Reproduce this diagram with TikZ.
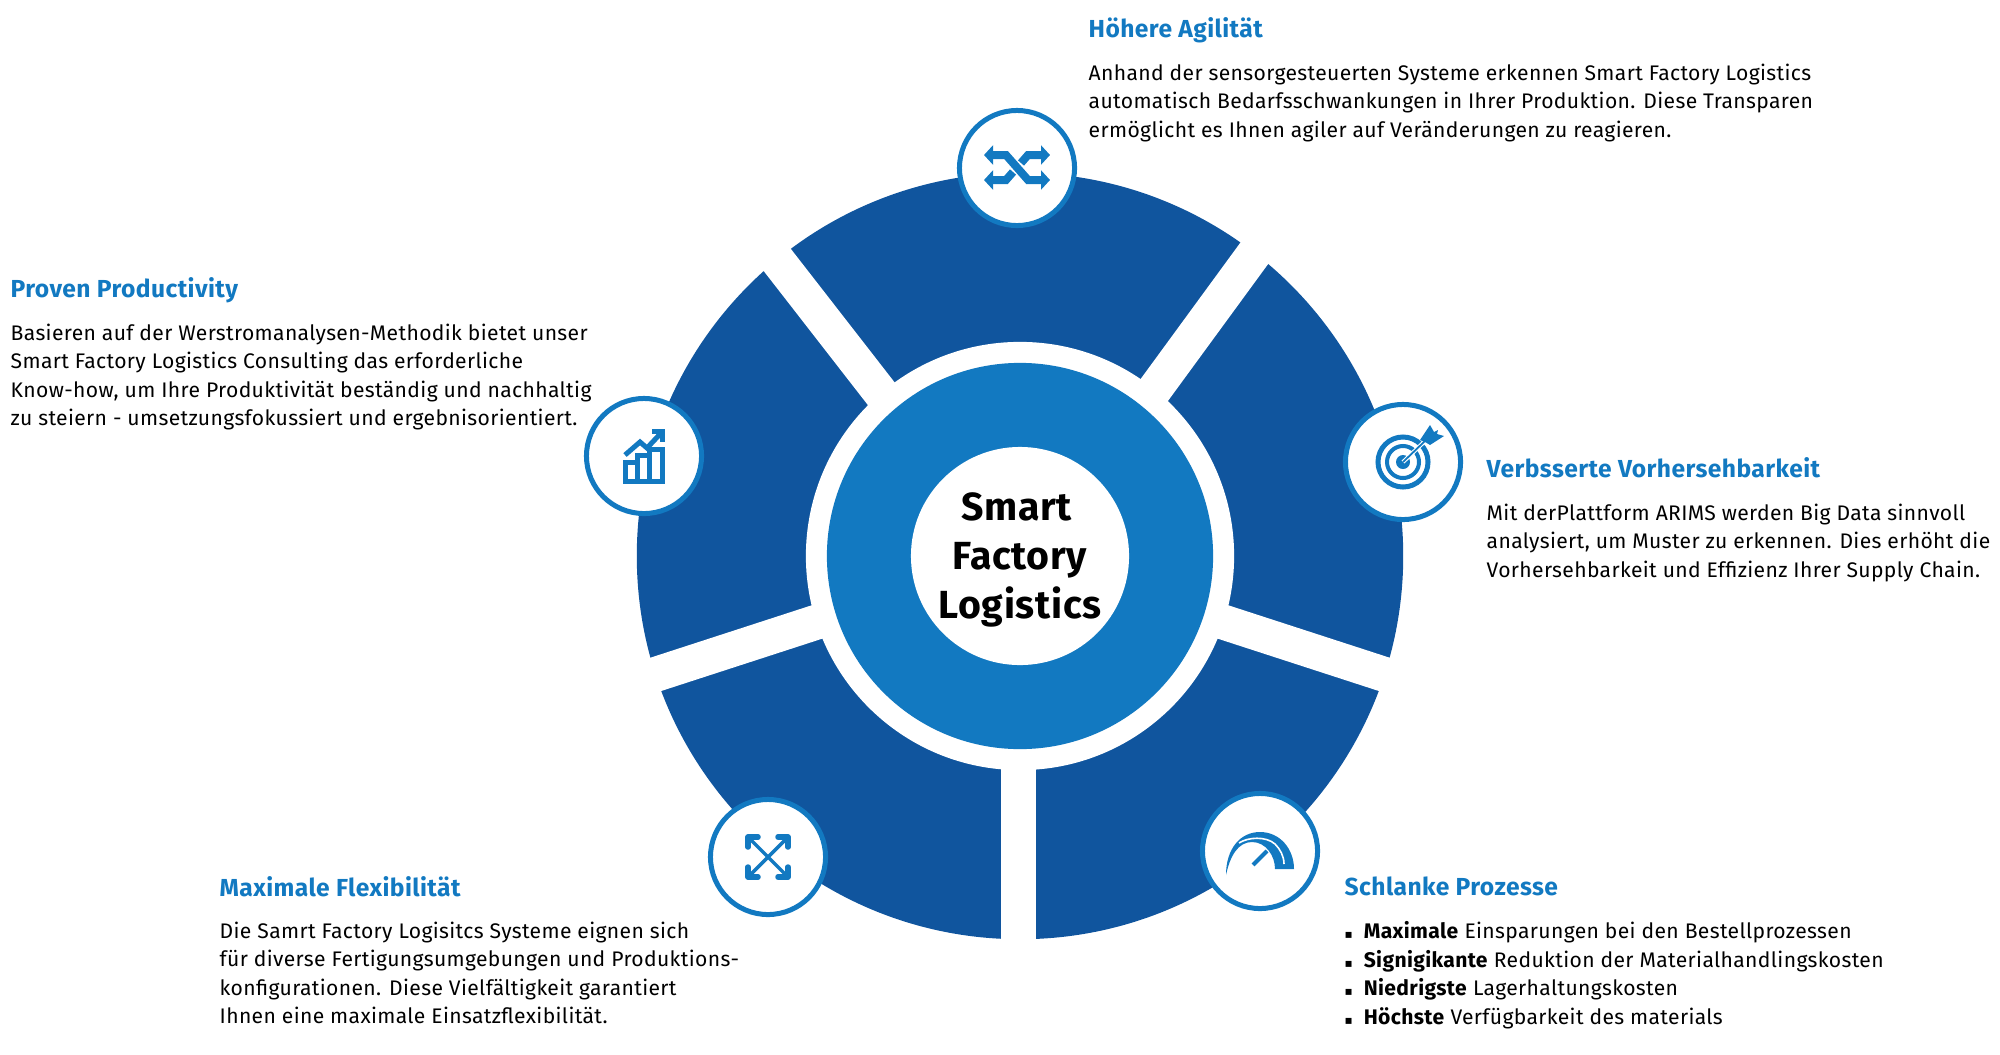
\documentclass[tikz,border=0pt]{standalone}
\usepackage{fontspec}
\setmainfont[LetterSpace=1.7]{Fira Sans}
\newfontfamily\symfont{DejaVu Sans}
\usepackage{tikz}
\usetikzlibrary{arrows.meta}
\definecolor{sfblue}{HTML}{1279C1}
\definecolor{sfdark}{HTML}{10559E}
\tikzset{
  headline/.style={anchor=north west,inner sep=0pt,text=sfblue,font=\fontsize{7}{8}\selectfont\bfseries},
  bodytext/.style={anchor=north west,inner sep=0pt,align=left,font=\fontsize{6}{8.1}\selectfont},
  iconring/.style={circle,draw=sfblue,fill=white,line width=.05cm,minimum size=1.15cm,inner sep=0pt},
  gapline/.style={white,line width=.35cm},
}
\newcommand{\blt}{{\symfont\fontsize{3.4}{8}\selectfont ▪}\hspace{.11cm}}
\begin{document}
\begin{tikzpicture}[x=.01cm,y=-.01cm]
    \useasboundingbox (0,0) rectangle (2000,1054);
    \coordinate (hub) at (1020,556);
    % wheel
    \fill[sfdark] (hub) circle (3.83cm);
    \foreach \a in {18,162}
        \draw[gapline] (hub) -- +(\a:420);
    \draw[gapline] (1018.5,556) -- (1018.5,960);
    \draw[gapline] (911,432) -- (747,221);
    \draw[gapline] (1125,430) -- (1283,214);
    \fill[white] (hub) circle (2.14cm);
    \fill[sfblue] (hub) circle (1.93cm);
    \fill[white] (hub) circle (1.09cm);
    \node[align=center,font=\fontsize{11.15}{13.9}\selectfont\bfseries] (smart) at (1020,560) {Smart\rule{.07cm}{0pt}\\Factory\\Logistics};
    % rings
    \node[iconring] (agilring) at (1017,168) {};
    \node[iconring] (vorherring) at (1403,462) {};
    \node[iconring] (prodring) at (644,456) {};
    \node[iconring] (flexring) at (768,857) {};
    \node[iconring] (schlankring) at (1260,851) {};
    % shuffle
    \begin{scope}[shift={(agilring.center)},sfblue,line width=.08cm]
        \draw[{Triangle[length=.9mm,width=1.9mm]}-{Triangle[length=.9mm,width=1.9mm]}] (-33,-13) -- (-11,-13) -- (11,12) -- (33,12);
        \draw[{Triangle[length=.9mm,width=1.9mm]}-] (-33,12) -- (-11,12) -- (-4,4);
        \draw[-{Triangle[length=.9mm,width=1.9mm]}] (4,-5) -- (11,-13) -- (33,-13);
    \end{scope}
    % target
    \begin{scope}[shift={(vorherring.center)},sfblue]
        \draw[line width=.05cm] (0,0) circle (.25cm);
        \draw[line width=.04cm] (0,0) circle (.16cm);
        \fill (0,0) circle (.07cm);
        \draw[white,line width=.04cm] (0,0) -- (21,-20);
        \draw[line width=.018cm] (0,0) -- (23,-22);
        \fill (17,-22) -- (27,-37) -- (31,-30) -- (35,-32) -- (34,-28) -- (41,-26) -- (27,-17) -- (22,-20) -- cycle;
    \end{scope}
    % chart
    \begin{scope}[shift={(prodring.center)},sfblue,line width=.05cm]
        \draw (-19,6) rectangle (-7,25);
        \draw (-7,-1) rectangle (5,25);
        \draw (5,-7) rectangle (18,25);
        \draw (-19,-1) -- (-4,-14) -- (3,-8) -- (18,-24);
        \draw (8,-25) -- (18,-25) -- (18,-14);
    \end{scope}
    % expand
    \begin{scope}[shift={(flexring.center)},sfblue]
        \draw[line width=.035cm] (-19,-19) -- (19,19) (19,-19) -- (-19,19);
        \foreach \s/\t in {-1/-1,1/-1,1/1,-1/1}
            \draw[line width=.055cm,line join=round,line cap=round] (\s*10,\t*20) -- (\s*20,\t*20) -- (\s*20,\t*10);
    \end{scope}
    % gauge
    \begin{scope}[shift={(schlankring.center)},sfblue]
        \fill (-34,24) .. controls (-34,-2) and (-20,-19) .. (0,-19) .. controls (20,-19) and (34,-2) .. (34,18) -- (15,18) .. controls (15,5) and (6,-9) .. (-8,-9) .. controls (-22,-9) and (-30,5) .. (-34,24) -- cycle;
        \draw[white,line width=.016cm] (-21,-8) .. controls (-12,-14) and (6,-15) .. (15,-7) .. controls (20,-2) and (24,5) .. (24,13);
        \draw[line width=.04cm] (-7,14) -- (7,0);
    \end{scope}
    % texts
    \node[headline] (agilhead) at (1088,17) {Höhere Agilität};
    \node[bodytext] (agiltext) at (1088,63) {Anhand der sensorgesteuerten Systeme erkennen Smart Factory Logistics\\automatisch Bedarfsschwankungen in Ihrer Produktion. Diese Transparen\\ermöglicht es Ihnen agiler auf Veränderungen zu reagieren.};
    \node[headline] (prodhead) at (10,277) {Proven Productivity};
    \node[bodytext] (prodtext) at (10,323) {Basieren auf der Werstromanalysen-Methodik bietet unser\\Smart Factory Logistics Consulting das erforderliche\\Know-how, um Ihre Produktivität beständig und nachhaltig\\zu steiern - umsetzungsfokussiert und ergebnisorientiert.};
    \node[headline] (vorherhead) at (1486,457) {Verbsserte Vorhersehbarkeit};
    \node[bodytext] (vorhertext) at (1486,503) {Mit derPlattform ARIMS werden Big Data sinnvoll\\analysiert, um Muster zu erkennen. Dies erhöht die\\Vorhersehbarkeit und Effizienz Ihrer Supply Chain.};
    \node[headline] (flexhead) at (219,876) {Maximale Flexibilität};
    \node[bodytext] (flextext) at (219,921) {Die Samrt Factory Logisitcs Systeme eignen sich\\für diverse Fertigungsumgebungen und Produktions-\\konfigurationen. Diese Vielfältigkeit garantiert\\Ihnen eine maximale Einsatzflexibilität.};
    \node[headline] (schlankhead) at (1344,876) {Schlanke Prozesse};
    \node[bodytext] (schlanktext) at (1344,921) {\blt\textbf{Maximale} Einsparungen bei den Bestellprozessen\\\blt\textbf{Signigikante} Reduktion der Materialhandlingskosten\\\blt\textbf{Niedrigste} Lagerhaltungskosten\\\blt\textbf{Höchste} Verfügbarkeit des materials};
\end{tikzpicture}
\end{document}
